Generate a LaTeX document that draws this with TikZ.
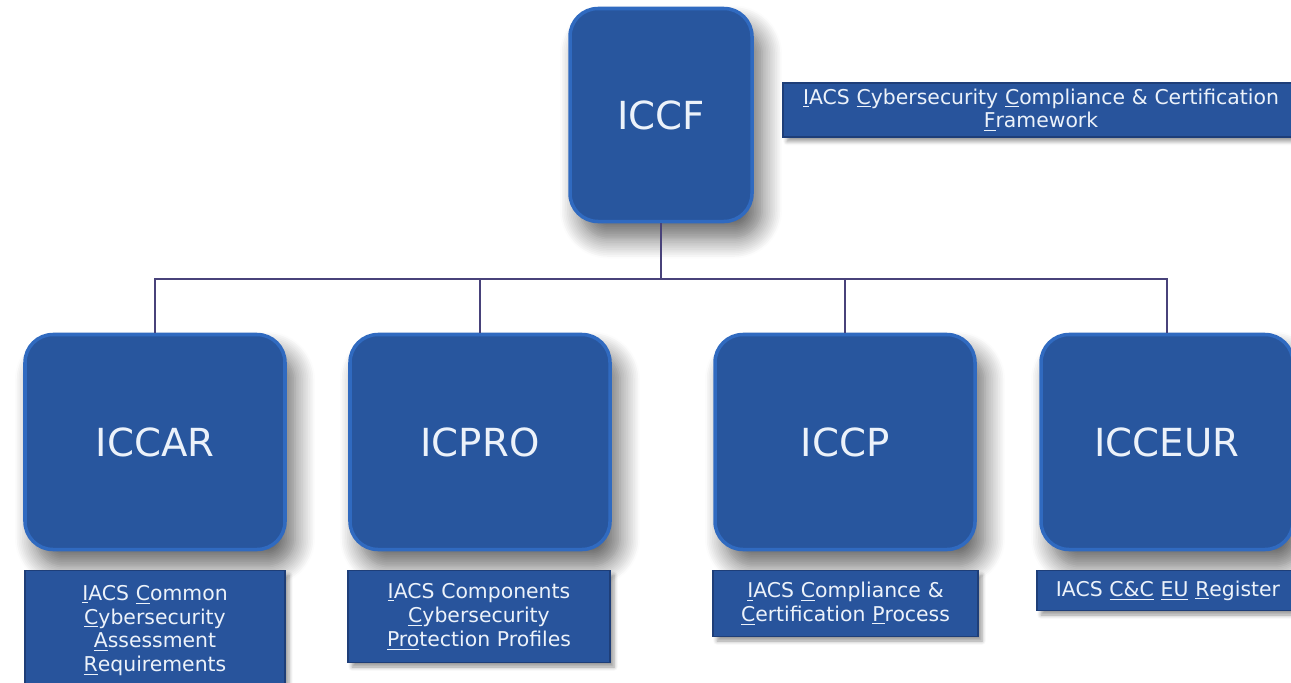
\documentclass[tikz,border=0pt]{standalone}
\usepackage{fontspec}
\setmainfont{DejaVu Sans}
\usepackage{xcolor}
\usepackage{tikz}
\usetikzlibrary{shadows.blur}
\definecolor{iacsblue}{RGB}{40,86,158}
\definecolor{iacsrim}{RGB}{48,106,192}
\definecolor{tagblue}{RGB}{40,84,156}
\definecolor{tagedge}{RGB}{30,62,120}
\definecolor{linknavy}{RGB}{72,66,122}
\definecolor{paletext}{RGB}{236,242,250}
% access key letters
\newcommand{\ak}[1]{\underline{#1}}

\begin{document}
\begin{tikzpicture}[x=0.2mm, y=-0.2mm,
  block/.style={rounded corners=5.6mm, fill=iacsblue, draw=iacsrim, line width=2pt,
    text=paletext, font=\fontsize{22}{26}\selectfont,
    blur shadow={shadow xshift=2mm, shadow yshift=-3.4mm, shadow blur radius=4mm,
      shadow blur steps=12, shadow opacity=60}},
  tag/.style={fill=tagblue, draw=tagedge, line width=0.6pt, text=paletext, align=center,
    inner xsep=1mm, inner ysep=0.8mm, font=\fontsize{11.6}{13.6}\selectfont,
    blur shadow={shadow xshift=0.8mm, shadow yshift=-0.9mm, shadow blur steps=5, shadow opacity=40}},
  link/.style={draw=linknavy, line width=0.7pt}]
\useasboundingbox (0,0) rectangle (1291,682);

% top of the tree
\node[block, minimum width=36.4mm, minimum height=42.6mm] (iccf) at (661,115) {ICCF};
\node[tag, text width=101.2mm, minimum height=10.8mm] (iccftag) at (1041,110)
  {\ak{I}ACS \ak{C}ybersecurity \ak{C}ompliance \& Certification\\\ak{F}ramework};

% second row
\node[block, minimum width=52mm, minimum height=43mm] (iccar) at (155,442) {ICCAR};
\node[block, minimum width=52mm, minimum height=43mm] (icpro) at (480,442) {ICPRO};
\node[block, minimum width=52mm, minimum height=43mm] (iccp) at (845,442) {ICCP};
\node[block, minimum width=50.4mm, minimum height=43mm] (icceur) at (1167,442) {ICCEUR};

% captions under the boxes
\node[tag, anchor=north, text width=50mm, minimum height=24mm] (iccartag) at (155,570)
  {\ak{I}ACS \ak{C}ommon\\\ak{C}ybersecurity\\\ak{A}ssessment\\\ak{R}equirements};
\node[tag, anchor=north, text width=50.4mm, minimum height=18.4mm] (icprotag) at (479,570)
  {\ak{I}ACS Components\\\ak{C}ybersecurity\\\ak{Pro}tection Profiles};
\node[tag, anchor=north, text width=51mm, minimum height=13.2mm] (iccptag) at (845.5,570)
  {\ak{I}ACS \ak{C}ompliance \&\\\ak{C}ertification \ak{P}rocess};
\node[tag, anchor=north, text width=50.4mm, minimum height=8mm] (icceurtag) at (1168,570)
  {IACS \ak{C\&C} \ak{EU} \ak{R}egister};

% connectors
\coordinate (bus) at (661,279);
\draw[link] (iccf.south) -- (bus);
\draw[link] (iccar.north) |- (bus) -| (icceur.north);
\draw[link] (icpro.north) -- (icpro.north |- bus);
\draw[link] (iccp.north) -- (iccp.north |- bus);
\end{tikzpicture}
\end{document}
